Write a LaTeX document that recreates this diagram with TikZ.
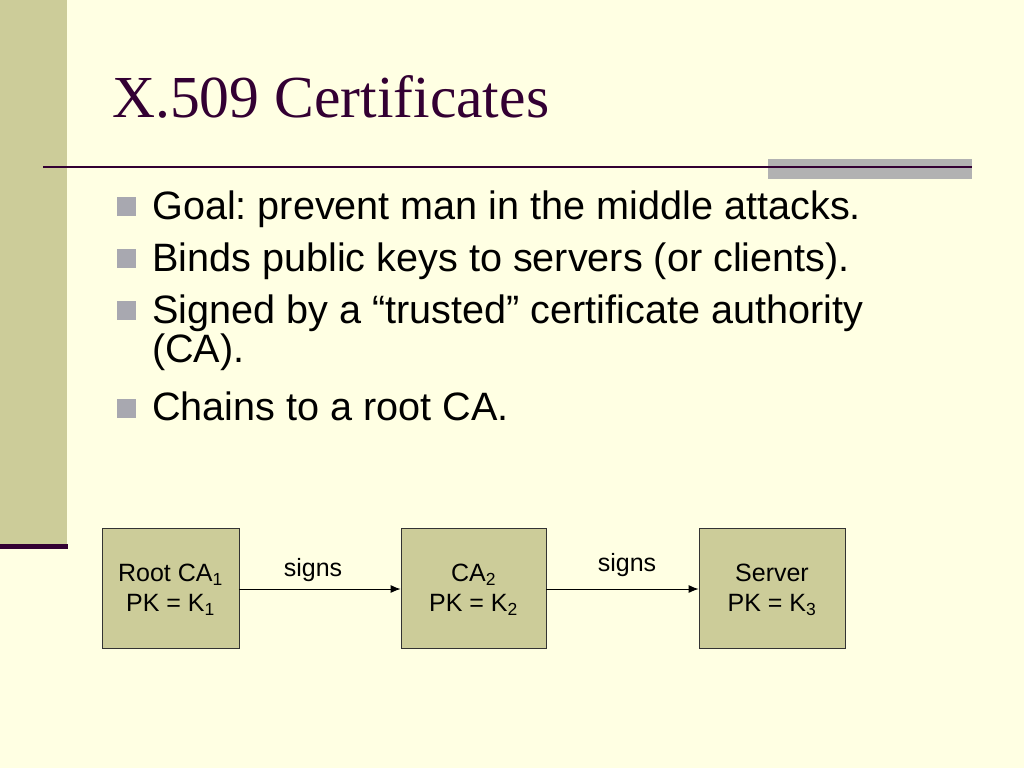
\documentclass[tikz,border=0pt]{standalone}
\usepackage{fontspec}
\setmainfont{Liberation Serif}
\newfontfamily\bodysans{Liberation Sans}
\usetikzlibrary{arrows.meta}
\definecolor{bgcol}{HTML}{FFFFE3}
\definecolor{barcol}{HTML}{CCCC99}
\definecolor{purp}{HTML}{330033}
\definecolor{greybox}{HTML}{B2B2B2}
\definecolor{bulletgrey}{HTML}{A8A8B0}
\tikzset{
  bodytext/.style={anchor=base west, inner sep=0pt, font=\bodysans\fontsize{39.6}{38}\selectfont\frenchspacing, text=black},
  bulletsq/.style={fill=bulletgrey, draw=none, minimum size=19pt, inner sep=0pt},
  certbox/.style={draw=black!80, line width=0.8pt, fill=barcol, minimum height=120pt, align=center, inner sep=0pt, font=\bodysans\fontsize{25}{30}\selectfont},
  signlabel/.style={anchor=base, inner sep=0pt, font=\bodysans\fontsize{25}{30}\selectfont},
  signarrow/.style={-{Latex[length=10pt,width=8pt]}, line width=1pt, black}
}
\begin{document}
\begin{tikzpicture}[x=1pt,y=-1pt]
\useasboundingbox (0,0) rectangle (1024,768);
\fill[bgcol] (0,0) rectangle (1024,768);
% left bar
\fill[barcol] (0,0) rectangle (67,544);
\fill[purp] (0,544) rectangle (68,548.5);
% title rule
\fill[greybox] (768,158.5) rectangle (972,179);
\draw[purp, line width=2.6pt] (43,167) -- (972,167);
% title
\node[anchor=base west, inner sep=0pt, text=purp, font=\fontsize{59.6}{66}\selectfont] (title) at (112,117) {X.509 Certificates};
% bullets
\node[bulletsq] (b1) at (126.5,206) {};
\node[bulletsq] (b2) at (126.5,258) {};
\node[bulletsq] (b3) at (126.5,310) {};
\node[bulletsq] (b4) at (126.5,408) {};
\node[bodytext] (t1) at (152,219) {Goal: prevent man in the middle attacks.};
\node[bodytext] (t2) at (152,271) {Binds public keys to servers (or clients).};
\node[bodytext] (t3) at (152,323) {Signed by a “trusted” certificate authority};
\node[bodytext] (t3b) at (152,362) {(CA).};
\node[bodytext] (t4) at (152,420) {Chains to a root CA.};
% diagram
\node[certbox, minimum width=137pt] (root) at (170.5,588) {\strut Root CA\textsubscript{1}\\PK = K\textsubscript{1}};
\node[certbox, minimum width=145pt] (ca2) at (473.5,588) {\strut CA\textsubscript{2}\\PK = K\textsubscript{2}};
\node[certbox, minimum width=146pt] (server) at (772,588) {\strut Server\\PK = K\textsubscript{3}};
\draw[signarrow] (root.east |- 0,589) -- (ca2.west |- 0,589);
\draw[signarrow] (ca2.east |- 0,589) -- (server.west |- 0,589);
\node[signlabel] (s1) at (313,576) {signs};
\node[signlabel] (s2) at (627,571) {signs};
\end{tikzpicture}
\end{document}
